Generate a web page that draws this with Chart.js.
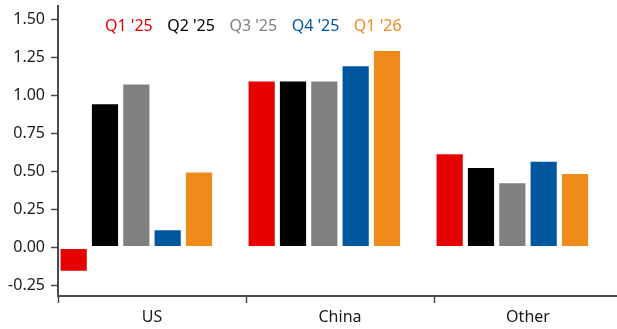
<!DOCTYPE html>
<html>
<head>
<meta charset="utf-8">
<script src="https://cdn.jsdelivr.net/npm/chart.js@4/dist/chart.umd.min.js"></script>
<style>
  html, body { margin: 0; padding: 0; background: #fff; overflow: hidden; }
  #wrap { position: relative; width: 625px; height: 329px; }
</style>
</head>
<body>
<div id="wrap"><canvas id="canva1"></canvas></div>
<script>
const regions = ['US', 'China', 'Other'];
const quarters = ["Q1 '25", "Q2 '25", "Q3 '25", "Q4 '25", "Q1 '26"];
const q1_25 = [-0.16, 1.10, 0.62];
const q2_25 = [0.95, 1.10, 0.53];
const q3_25 = [1.08, 1.10, 0.43];
const q4_25 = [0.12, 1.20, 0.57];
const q1_26 = [0.50, 1.30, 0.49];
const yTicks = [-0.25, 0, 0.25, 0.5, 0.75, 1, 1.25, 1.5];
const colors = ['#e60000', '#000000', '#808080', '#0057a0', '#ee8b1a'];

const axisColor = '#4a4a4a';
const textColor = '#1a1a1a';
const fontFamily = "'Noto Sans', sans-serif";

const series = [q1_25, q2_25, q3_25, q4_25, q1_26];
const datasets = series.map((vals, i) => ({
    label: quarters[i],
    data: vals,
    backgroundColor: colors[i],
    borderColor: 'rgba(255,255,255,0.45)',
    borderWidth: 1,
    borderSkipped: false,
    barPercentage: 0.9,
    categoryPercentage: 1.0,
}));
// empty sixth slot keeps the groups left-aligned in each category
datasets.push({ label: '', data: [], barPercentage: 0.9, categoryPercentage: 1.0 });

// legend drawn as coloured text inside the plot
const textLegend = {
    id: 'textLegend',
    afterDraw(chart) {
        const ctx = chart.ctx;
        ctx.save();
        ctx.font = "16px " + fontFamily;
        ctx.textBaseline = 'middle';
        let x = chart.chartArea.left + 47;
        chart.data.datasets.forEach(ds => {
            if (!ds.label) return;
            ctx.fillStyle = ds.backgroundColor;
            ctx.fillText(ds.label, x, 26);
            x += ctx.measureText(ds.label).width + 14.5;
        });
        ctx.restore();
    }
};

const ctx1 = document.getElementById('canva1').getContext('2d');
new Chart(ctx1, {
    type: 'bar',
    data: { labels: regions, datasets },
    options: {
        responsive: true,
        maintainAspectRatio: false,
        animation: false,
        layout: { padding: { top: 6, right: 3, left: 0, bottom: 0 } },
        scales: {
            x: {
                grid: { drawOnChartArea: false, drawTicks: true, tickLength: 7, tickColor: axisColor, tickWidth: 1.5 },
                border: { color: axisColor, width: 2 },
                ticks: { color: textColor, padding: 5, font: { family: fontFamily, size: 16 } },
                afterFit: scale => { scale.height = 33; }
            },
            y: {
                min: -0.32,
                max: 1.59,
                grid: { drawOnChartArea: false, drawTicks: true, tickLength: 7, tickColor: axisColor, tickWidth: 1.5 },
                border: { color: axisColor, width: 2 },
                ticks: {
                    color: textColor,
                    padding: 6,
                    font: { family: fontFamily, size: 16 },
                    callback: v => v.toFixed(2)
                },
                afterBuildTicks: scale => { scale.ticks = yTicks.map(v => ({ value: v })); },
                afterFit: scale => {
                    scale.width = 58;
                    scale.paddingTop = 0;
                    scale.paddingBottom = 0;
                }
            }
        },
        plugins: {
            legend: { display: false },
            tooltip: { enabled: false }
        }
    },
    plugins: [textLegend]
});
</script>
</body>
</html>
